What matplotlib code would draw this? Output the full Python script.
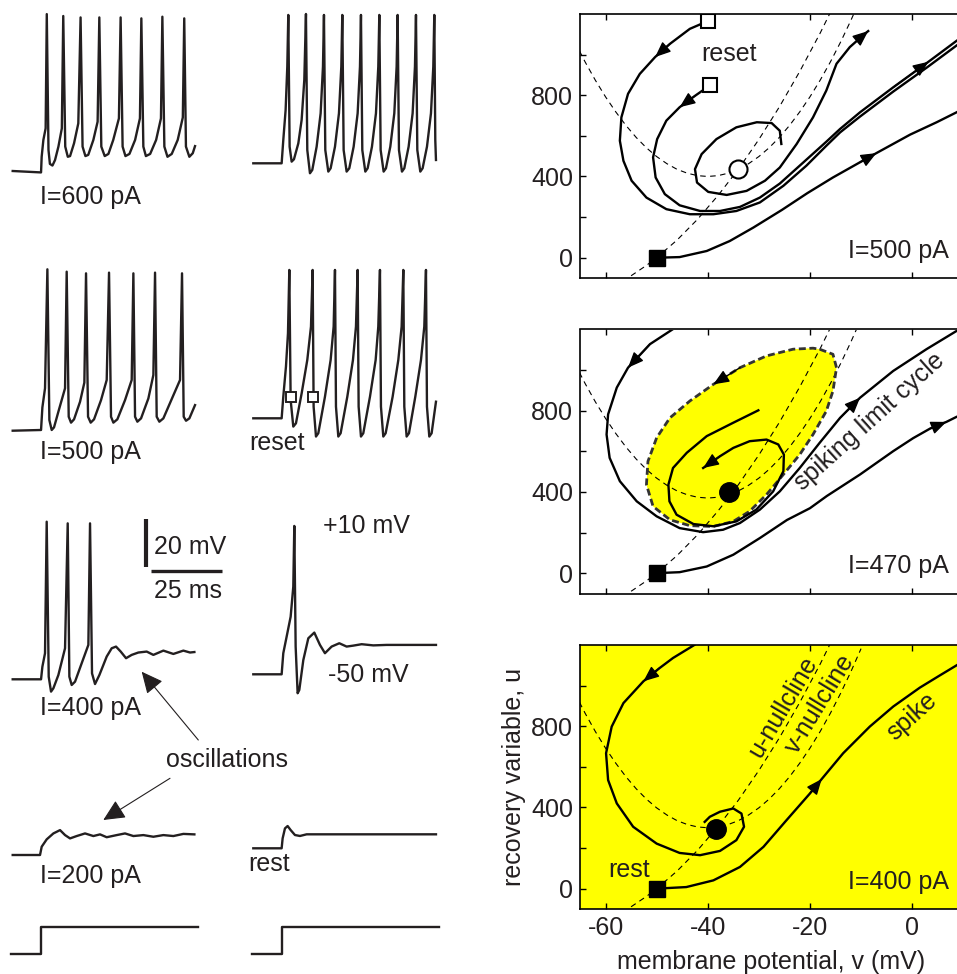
import matplotlib
matplotlib.use('Agg')
import matplotlib.pyplot as plt

plt.rcParams['font.family'] = ['Liberation Sans', 'DejaVu Sans']
plt.rcParams['axes.unicode_minus'] = False

INK = '#231f20'
FS = 18

# ---------------- voltage traces (time in ms, voltage in mV) ----------------
r1L_t = [0, 9.98, 10.2, 10.8, 11.6, 12.0, 12.6, 13.1, 14.0, 14.9, 16.1, 17.3, 17.8, 18.5, 19.4, 20.2, 21.6, 23.1,
         23.9, 24.6, 25.6, 26.6, 28.4, 29.9, 30.5, 31.2, 32.4, 33.7, 35.4, 37.4, 38.0, 38.7, 39.7, 41.1, 43.1, 44.8,
         45.3, 46.0, 46.9, 48.4, 50.5, 52.2, 52.7, 53.4, 54.5, 56.0, 58.1, 59.9, 60.4, 61.0, 62.2, 63.4, 64.2]
r1L_v = [-50, -50.6, -44.0, -36.9, -32.0, 16.2, -41.1, -47.0, -47.7, -45.4, -39.7, -32.0, 15.4, -39.7, -44.0, -43.7,
         -38.3, -29.9, 14.8, -39.7, -43.7, -43.2, -36.9, -29.2, 14.8, -39.7, -43.7, -42.8, -36.9, -27.8, 14.8, -39.7,
         -43.7, -42.8, -36.9, -27.8, 14.4, -39.7, -43.7, -42.8, -36.9, -27.8, 15.1, -39.7, -44.0, -42.8, -36.9, -27.4,
         14.4, -39.7, -44.0, -42.5, -39.5]

r1R_t = [0, 9.98, 10.56, 11.38, 11.97, 12.32, 12.79, 13.50, 14.32, 15.85, 17.02, 17.96, 18.54, 19.01, 19.95, 20.77,
         22.30, 23.71, 24.53, 24.88, 25.35, 26.41, 27.23, 28.76, 30.16, 30.99, 31.34, 31.81, 32.86, 33.80, 35.33,
         36.74, 37.56, 37.91, 38.38, 39.44, 40.26, 41.78, 43.19, 44.01, 44.37, 44.84, 45.89, 46.71, 48.24, 49.65,
         50.47, 50.82, 51.29, 52.35, 53.17, 54.69, 56.10, 56.92, 57.28, 57.75, 58.80, 59.62, 61.15, 62.56, 63.38,
         63.73, 64.08, 64.32]
r1R_v = [-50, -50, -40.2, -27.5, -9.2, 12.6, -43.0, -49.3, -48.3, -41.6, -31.7, -14.8, 13.0,
         -44.4, -54.2, -52.8, -43.0, -28.9, -9.2, 12.6,
         -44.4, -53.5, -52.1, -43.0, -28.9, -9.2, 12.6,
         -44.4, -53.5, -52.1, -43.0, -28.9, -9.2, 12.6,
         -44.4, -53.5, -52.1, -43.0, -28.9, -9.2, 12.6,
         -44.4, -53.5, -52.1, -43.0, -28.9, -9.2, 12.6,
         -44.4, -53.5, -52.1, -43.0, -28.9, -9.2, 12.6,
         -44.4, -53.5, -52.1, -43.0, -28.9, -9.2, 12.6,
         -40.2, -48.6]

r2L_t = [0, 9.98, 10.45, 11.38, 12.21, 12.91, 13.73, 14.55, 16.08, 18.43, 19.01, 19.72, 20.54, 21.60, 23.71, 25.23,
         25.82, 26.53, 27.46, 28.64, 31.10, 33.10, 33.92, 34.62, 35.45, 36.85, 39.55, 41.90, 42.49, 43.08, 43.90,
         45.19, 47.77, 49.53, 50.12, 50.70, 51.64, 53.05, 56.34, 58.92, 59.62, 60.21, 61.03, 62.21, 64.20]
r2L_v = [-50, -49.7, -40.2, -32.1, 18.1, -45.5, -49.7, -48.6, -42.0, -32.1, 17.1, -44.1, -46.6, -45.2, -37.8, -29.7,
         16.4, -44.1, -46.6, -45.2, -37.1, -28.6, 16.7, -44.1, -46.6, -45.2, -37.1, -28.6, 16.4, -44.1, -46.2, -44.8,
         -36.4, -26.5, 16.7, -44.1, -46.2, -44.8, -35.7, -28.6, 16.4, -44.1, -45.8, -44.8, -39.2]

r2R_t = [0, 9.98, 10.56, 11.50, 12.21, 12.68, 13.15, 14.08, 15.02, 17.02, 19.01, 20.31, 20.89, 21.24, 22.07, 22.89,
         25.23, 27.23, 28.29, 28.76, 29.11, 29.93, 30.75, 33.10, 35.09, 36.15, 36.74, 37.09, 37.91, 38.73, 41.08,
         43.08, 44.01, 44.60, 44.95, 45.77, 46.60, 49.06, 51.06, 52.23, 52.82, 53.17, 53.99, 54.81, 57.04, 59.04,
         60.21, 60.80, 61.15, 61.97, 62.79, 64.32]
r2R_v = [-50, -50, -40.9, -28.2, -14.1, 12.6, -42.3, -53.5, -52.1, -39.5, -25.4, -11.3, 12.6,
         -45.1, -57.7, -56.3, -40.9, -25.4, -11.3, 12.6,
         -45.1, -57.7, -56.3, -40.9, -25.4, -11.3, 12.6,
         -45.1, -57.7, -56.3, -40.9, -25.4, -11.3, 12.6,
         -45.1, -57.7, -56.3, -40.9, -25.4, -11.3, 12.6,
         -45.1, -57.7, -56.3, -40.9, -25.4, -11.3, 12.6,
         -45.1, -57.7, -56.3, -43.0]
reset_t = [13.15, 21.13]
reset_v = [-40.9, -40.9]

r3L_t = [0, 9.98, 10.45, 11.38, 11.97, 12.68, 13.50, 14.32, 16.08, 18.43, 19.37, 19.95, 20.77, 21.95, 24.30, 26.64,
         27.23, 27.93, 28.99, 30.52, 33.10, 34.86, 36.38, 38.03, 39.91, 41.90, 44.25, 47.18, 49.53, 53.05, 56.57,
         60.09, 62.44, 63.97]
r3L_v = [-50, -50, -44.7, -39.0, 16.5, -48.9, -55.2, -53.8, -48.2, -36.9, 15.8, -48.9, -52.4, -51.0, -43.2, -35.5,
         15.8, -47.5, -52.0, -48.2, -40.4, -36.9, -36.2, -38.3, -41.1, -39.7, -38.7, -38.3, -39.7, -37.9, -39.3,
         -37.9, -38.7, -38.5]

r3R_t = [0, 9.98, 10.56, 11.74, 13.15, 14.08, 14.44, 14.91, 15.61, 16.20, 17.61, 19.37, 21.48, 23.47, 25.23, 27.58,
         30.28, 32.86, 35.21, 38.15, 42.25, 46.95, 64.32]
r3R_v = [-50, -50, -41.1, -34.1, -25.7, -13.0, 12.6, -38.3, -58.0, -56.6, -44.0, -34.8, -32.4, -37.6, -41.1, -38.3,
         -36.9, -38.3, -37.9, -37.3, -37.8, -37.6, -37.6]

r4L_t = [0, 9.62, 10.21, 11.97, 14.32, 16.67, 18.43, 20.19, 22.54, 25.47, 28.40, 30.75, 33.10, 36.62, 39.55, 42.49,
         46.01, 49.53, 53.05, 56.57, 60.09, 63.97]
r4L_v = [-50, -50, -46.5, -43.4, -40.9, -39.5, -41.6, -43.0, -42.0, -40.9, -42.0, -41.3, -42.5, -41.6, -40.9, -42.0,
         -41.6, -42.3, -41.6, -42.0, -41.1, -41.3]

r4R_t = [0, 9.98, 10.33, 11.15, 12.09, 13.15, 14.67, 16.43, 18.78, 64.32]
r4R_v = [-50, -50, -45.8, -41.6, -40.6, -42.3, -44.4, -44.8, -44.1, -44.1]

step_t = [0, 10.6, 10.6, 66.0]
step_i = [0, 0, 1, 1]

scalebar_mv = 20
scalebar_ms = 25

# ---------------- phase plane (v in mV, u in pA) ----------------
panel_I = [500, 470, 400]
vnull_v = [-66, -64, -62, -60, -58, -56, -54, -52, -50, -48, -46, -44, -42, -40, -38, -36, -34, -32, -30, -28, -26,
           -24, -22, -20, -18, -16, -14, -12, -10]
vnull_shape = [662, 564, 474, 392, 318, 251, 192, 141, 98, 63, 35, 16, 4, 0, 4, 16, 35, 63, 98, 141, 192, 251, 318,
               392, 474, 564, 662, 768, 882]
vnull_min = [400, 370, 300]
unull_v = [-55, -52, -50, -46, -42, -38, -34, -30, -26, -22, -18, -14]
unull_u = [-89, -38, 0, 87, 189, 306, 436, 582, 742, 917, 1106, 1310]

# I = 500 pA
t1_v = [-40.0, -43.5, -47.4, -50.3, -53.3, -55.6, -56.9, -57.2, -56.5, -54.9, -52.0, -48.1, -43.5, -38.9, -34.4,
        -29.8, -25.2, -20.7, -16.8, -14.1, -10.2, -3.7, 2.8, 8.7, 12.0]
t1_u = [1165, 1127, 1053, 988, 905, 807, 691, 576, 477, 379, 296, 239, 214, 214, 230, 272, 354, 453, 551, 617, 695,
        818, 935, 1045, 1100]
t2_v = [-39.6, -42.5, -45.5, -48.1, -49.9, -50.7, -50.2, -48.4, -45.5, -41.5, -37.6, -33.7, -29.8, -25.9, -21.3,
        -16.8, -14.1, -10.2, -3.7, 3.2, 8.7, 12.0]
t2_u = [848, 797, 741, 675, 584, 494, 395, 313, 258, 230, 230, 250, 296, 365, 469, 571, 634, 716, 839, 965, 1068, 1125]
loop_v = [-25.6, -25.9, -27.5, -30.4, -34.4, -38.3, -41.2, -42.5, -42.1, -39.9, -36.3, -32.4, -28.8, -25.9, -22.6,
          -19.4, -16.8, -14.8, -12.2, -9.6, -8.6]
loop_u = [560, 625, 663, 667, 642, 584, 510, 436, 370, 324, 309, 329, 379, 444, 560, 691, 823, 955, 1037, 1095, 1116]
rest500_v = [-49.7, -45.5, -40.2, -35.7, -31.1, -25.5, -20.5, -15.5, -10.2, -7.0, -0.4, 4.8, 8.7, 12.0]
rest500_u = [0, 3, 33, 82, 148, 235, 318, 395, 470, 515, 606, 667, 716, 760]

# I = 470 pA
m1_v = [-44.5, -46.8, -51.3, -55.6, -57.8, -59.5, -59.8, -59.2, -57.2, -53.9, -50.0, -45.5, -40.9, -37.0, -33.7,
        -29.8, -25.9, -22.0, -18.1, -14.1, -10.2, -3.7, 2.8, 8.7, 12.0]
m1_u = [1240, 1202, 1128, 1012, 914, 782, 683, 568, 453, 354, 280, 222, 202, 214, 247, 313, 403, 518, 642, 765, 864,
        996, 1103, 1193, 1240]
rest470_v = [-50.2, -45.5, -40.2, -35.0, -29.8, -24.5, -20.0, -16.7, -10.2, -3.7, 0.2, 3.5, 6.7, 8.7, 12.0]
rest470_u = [0, 5, 33, 91, 173, 262, 320, 380, 486, 601, 665, 712, 745, 770, 800]
cycle_v = [-18.1, -15.5, -14.8, -15.5, -16.8, -19.4, -22.0, -25.2, -28.5, -31.8, -35.0, -38.9, -43.5, -47.4, -50.7,
           -52.0, -51.7, -50.0, -47.4, -43.5, -38.9, -33.7, -28.5, -23.3, -19.4]
cycle_u = [1103, 1078, 1012, 897, 798, 683, 584, 486, 387, 305, 255, 230, 234, 263, 329, 436, 551, 667, 765, 848, 930,
           1012, 1070, 1103, 1108]
spiral_v = [-30.1, -35.0, -40.2, -44.1, -46.8, -47.7, -47.5, -46.1, -42.8, -38.9, -34.4, -30.5, -27.2, -25.2, -25.1,
            -26.2, -28.5, -31.8, -35.0, -37.6, -40.9]
spiral_u = [802, 741, 675, 593, 518, 436, 354, 288, 242, 231, 255, 313, 403, 502, 584, 634, 658, 650, 617, 576, 518]

# I = 400 pA
b1_v = [-41.5, -42.5, -46.8, -49.5, -52.6, -56.5, -58.8, -59.9, -59.5, -57.8, -54.6, -50.0, -45.5, -41.5, -37.6,
        -34.4, -32.9, -33.4, -35.0, -37.6, -39.6, -40.6]
b1_u = [1240, 1202, 1136, 1085, 1021, 914, 798, 667, 535, 420, 305, 222, 176, 165, 186, 239, 305, 370, 395, 379, 354,
        329]
rest400_v = [-50.2, -44.2, -38.9, -33.7, -29.1, -24.6, -20.0, -17.7, -13.5, -8.3, -3.7, 1.5, 5.4, 8.7, 12.0]
rest400_u = [0, 8, 41, 107, 206, 337, 469, 540, 667, 798, 897, 990, 1050, 1100, 1150]

rest_point = (-50, 0)
reset_points = ([-40.0, -39.6], [1165, 848])
equilibria = [(-34.0, 436), (-35.8, 400), (-38.3, 296)]

W, H = 957, 974
PX_MS, PX_MV = 2.84, 2.37

fig = plt.figure(figsize=(W / 100, H / 100), dpi=100)


def px_axes(x0, y0, w, h):
    return fig.add_axes([x0 / W, 1 - (y0 + h) / H, w / W, h / H])


def trace_axes(x0, y0):
    # (x0, y0) is where t = 0 ms, V = -50 mV sits
    ax = px_axes(x0, y0 - 70 * PX_MV, 70 * PX_MS, 80 * PX_MV)
    ax.set_xlim(0, 70)
    ax.set_ylim(-60, 20)
    ax.axis('off')
    return ax


traces = [(12.7, 171.0, r1L_t, r1L_v), (253.3, 163.3, r1R_t, r1R_v),
          (12.7, 430.7, r2L_t, r2L_v), (253.3, 418.3, r2R_t, r2R_v),
          (12.7, 679.3, r3L_t, r3L_v), (253.3, 674.3, r3R_t, r3R_v),
          (12.7, 855.0, r4L_t, r4L_v), (253.3, 848.3, r4R_t, r4R_v)]
tr_axes = []
for x0, y0, t, v in traces:
    ax = trace_axes(x0, y0)
    ax.plot(t, v, color=INK, lw=1.7, solid_joinstyle='round', clip_on=False)
    tr_axes.append(ax)

tr_axes[3].plot(reset_t, reset_v, 's', ms=7.5, mfc='white', mec=INK, mew=1.4, clip_on=False, zorder=5)

# scale bars
sb = tr_axes[4]
sb.plot([46.9, 46.9], [-2.5, -2.5 + scalebar_mv], color=INK, lw=3, solid_capstyle='butt', clip_on=False)
sb.plot([48.6, 48.6 + scalebar_ms], [-4.2, -4.2], color=INK, lw=2.4, solid_capstyle='butt', clip_on=False)

# current steps
for x0 in (10.7, 251.7):
    ax = px_axes(x0, 926.7, 70 * PX_MS, 27.3)
    ax.set_xlim(0, 70)
    ax.set_ylim(0, 1)
    ax.axis('off')
    ax.plot(step_t, step_i, color=INK, lw=1.7, clip_on=False)

# overlay for left-hand annotations (pixel coordinates)
ov = fig.add_axes([0, 0, 1, 1], zorder=20)
ov.set_xlim(0, W)
ov.set_ylim(H, 0)
ov.axis('off')
ov.patch.set_alpha(0)
left_texts = [("I=600 pA", 40, 204), ("I=500 pA", 40, 459.3), ("reset", 249.3, 450),
              ("I=400 pA", 40, 715), ("+10 mV", 323.3, 533.3), ("-50 mV", 328.3, 681.7),
              ("20 mV", 154, 554), ("25 ms", 154, 598.3), ("oscillations", 165.7, 766.7),
              ("I=200 pA", 40, 883.3), ("rest", 248.3, 870.7)]
for s, x, y in left_texts:
    ov.text(x, y, s, fontsize=FS, color=INK, ha='left', va='baseline')
for (x1, y1), (x2, y2) in [((198.3, 740), (141.7, 671.7)), ((170, 778.3), (103.3, 820))]:
    ov.annotate('', xy=(x2, y2), xytext=(x1, y1),
                arrowprops=dict(arrowstyle='-|>,head_length=0.95,head_width=0.45', mutation_scale=14,
                                color=INK, lw=0.8, shrinkA=0, shrinkB=0))

# ---------------- phase-plane panels ----------------
panel_top = [14, 329.5, 645]
pp_axes = []
for k, top in enumerate(panel_top):
    ax = px_axes(580, top, 75 * 5.11, 264)
    ax.set_xlim(-65, 10)
    ax.set_ylim(-100, 1200)
    ax.set_xticks([-60, -40, -20, 0])
    ax.set_yticks([0, 400, 800])
    ax.set_yticks([200, 600, 1000], minor=True)
    ax.tick_params(which='both', direction='in', length=4, width=1, top=True, right=True,
                   labelsize=FS, labelcolor=INK, pad=5)
    for sp in ax.spines.values():
        sp.set_linewidth(1.2)
    if k < 2:
        ax.set_xticklabels([])
    pp_axes.append(ax)
ax_t, ax_m, ax_b = pp_axes
ax_b.set_facecolor('#ffff00')


def arrow_head(ax, v, u, i, j):
    ax.annotate('', xy=(v[j], u[j]), xytext=(v[i], u[i]),
                arrowprops=dict(arrowstyle='-|>,head_length=0.95,head_width=0.4', mutation_scale=10,
                                color='black', lw=1.0, shrinkA=0, shrinkB=0), zorder=6)


TRJ = dict(color='black', lw=1.7, zorder=4, solid_joinstyle='round')
for ax, vmin in zip(pp_axes, vnull_min):
    ax.plot(vnull_v, [s + vmin for s in vnull_shape], color='black', lw=0.8, ls=(0, (5, 4)), zorder=3)
    ax.plot(unull_v, unull_u, color='black', lw=0.8, ls=(0, (5, 4)), zorder=3)
    ax.plot(*rest_point, 's', ms=11, color='black', zorder=7)

# top panel, I=500
ax_t.plot(t1_v, t1_u, **TRJ)
ax_t.plot(t2_v, t2_u, **TRJ)
ax_t.plot(loop_v, loop_u, **TRJ)
ax_t.plot(rest500_v, rest500_u, **TRJ)
arrow_head(ax_t, t1_v, t1_u, 2, 3)
arrow_head(ax_t, t2_v, t2_u, 1, 2)
arrow_head(ax_t, t2_v, t2_u, 18, 19)
arrow_head(ax_t, loop_v, loop_u, 19, 20)
arrow_head(ax_t, rest500_v, rest500_u, 8, 9)
ax_t.plot(*reset_points, 's', ms=10, mfc='white', mec='black', mew=1.5, zorder=7)
ax_t.plot(*equilibria[0], 'o', ms=13, mfc='white', mec='black', mew=1.5, zorder=7)
ax_t.text(-41.2, 971, 'reset', fontsize=FS, color=INK, ha='left', va='baseline')

# middle panel, I=470
ax_m.fill(cycle_v, cycle_u, color='#ffff00', lw=0, zorder=1)
ax_m.plot(cycle_v + cycle_v[:1], cycle_u + cycle_u[:1], color='#333333', lw=2.0, ls=(0, (2.5, 1.3)), zorder=4)
arrow_head(ax_m, cycle_v, cycle_u, 21, 20)
ax_m.plot(m1_v, m1_u, **TRJ)
ax_m.plot(rest470_v, rest470_u, **TRJ)
ax_m.plot(spiral_v, spiral_u, **TRJ)
arrow_head(ax_m, m1_v, m1_u, 2, 3)
arrow_head(ax_m, m1_v, m1_u, 19, 20)
arrow_head(ax_m, rest470_v, rest470_u, 11, 12)
arrow_head(ax_m, spiral_v, spiral_u, 19, 20)
ax_m.plot(*equilibria[1], 'o', ms=14, color='black', zorder=7)
ax_m.text(-8.3, 745, 'spiking limit cycle', fontsize=FS, color=INK, rotation=42,
          rotation_mode='anchor', ha='center', va='center')

# bottom panel, I=400
ax_b.plot(b1_v, b1_u, **TRJ)
ax_b.plot(rest400_v, rest400_u, **TRJ)
arrow_head(ax_b, b1_v, b1_u, 3, 4)
arrow_head(ax_b, rest400_v, rest400_u, 6, 7)
ax_b.plot(*equilibria[2], 'o', ms=14, color='black', zorder=7)
ax_b.text(-25.2, 893, 'u-nullcline', fontsize=FS, color=INK, rotation=59.5,
          rotation_mode='anchor', ha='center', va='center')
ax_b.text(-18.1, 910, 'v-nullcline', fontsize=FS, color=INK, rotation=58.6,
          rotation_mode='anchor', ha='center', va='center')
ax_b.text(0.0, 847, 'spike', fontsize=FS, color=INK, rotation=42,
          rotation_mode='anchor', ha='center', va='center')
ax_b.text(-59.5, 57, 'rest', fontsize=FS, color=INK, ha='left', va='baseline')

for ax, I in zip(pp_axes, panel_I):
    ax.text(-12.5, 0, 'I=%d pA' % I, fontsize=FS, color=INK, ha='left', va='baseline', zorder=8)

ax_b.set_ylabel('recovery variable, u', fontsize=FS, color=INK)
ax_b.yaxis.set_label_coords(-0.141, 0.5)
ax_b.set_xlabel('membrane potential, v (mV)', fontsize=FS, color=INK)
ax_b.xaxis.set_label_coords(0.4975, -0.155)

fig.savefig('out.png', dpi=100)
